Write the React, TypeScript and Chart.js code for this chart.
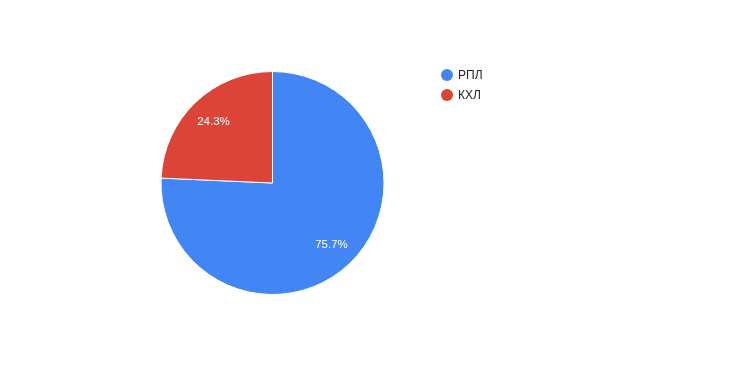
import React, { useEffect, useRef } from "react";
import { Chart, registerables } from "chart.js";

Chart.register(...registerables);

const labels = ["РПЛ", "КХЛ"];
const values = [75.7, 24.3];
const colors = ["#4285f4", "#db4437"];

const labelPlugin = {
  id: "sliceLabels",
  afterDatasetsDraw(chart: any) {
    const ctx = chart.ctx;
    const meta = chart.getDatasetMeta(0);
    const total = values.reduce((a, b) => a + b, 0);
    ctx.save();
    ctx.font = "11.5px 'Liberation Sans', Arial, sans-serif";
    ctx.fillStyle = "#ffffff";
    ctx.textAlign = "center";
    ctx.textBaseline = "middle";
    meta.data.forEach((arc: any, i: number) => {
      const mid = (arc.startAngle + arc.endAngle) / 2;
      const r = arc.outerRadius * 0.765;
      const x = arc.x + Math.cos(mid) * r;
      const y = arc.y + Math.sin(mid) * r;
      ctx.fillText(((values[i] / total) * 100).toFixed(1) + "%", x, y);
    });
    // legend
    ctx.font = "12px 'Liberation Sans', Arial, sans-serif";
    ctx.textAlign = "left";
    labels.forEach((l, i) => {
      const cy = 75 + i * 20;
      ctx.beginPath();
      ctx.arc(447, cy, 6, 0, Math.PI * 2);
      ctx.fillStyle = colors[i];
      ctx.fill();
      ctx.fillStyle = "#222222";
      ctx.fillText(l, 458, cy + 1);
    });
    ctx.restore();
  },
};

export default function App() {
  const ref = useRef<HTMLCanvasElement>(null);
  useEffect(() => {
    if (!ref.current) return;
    const chart = new Chart(ref.current, {
      type: "pie",
      data: {
        labels,
        datasets: [
          {
            data: values,
            backgroundColor: colors,
            borderColor: "#ffffff",
            borderWidth: 1,
          },
        ],
      },
      options: {
        animation: false,
        responsive: false,
        layout: { padding: { left: 160.5, right: 345.5, top: 71, bottom: 70 } },
        plugins: {
          legend: { display: false },
          tooltip: { enabled: false },
        },
      },
      plugins: [labelPlugin],
    });
    return () => chart.destroy();
  }, []);
  return (
    <div style={{ position: "fixed", left: 0, top: 0, width: 730, height: 365, background: "#fff" }}>
      <canvas ref={ref} width={730} height={365} />
    </div>
  );
}
